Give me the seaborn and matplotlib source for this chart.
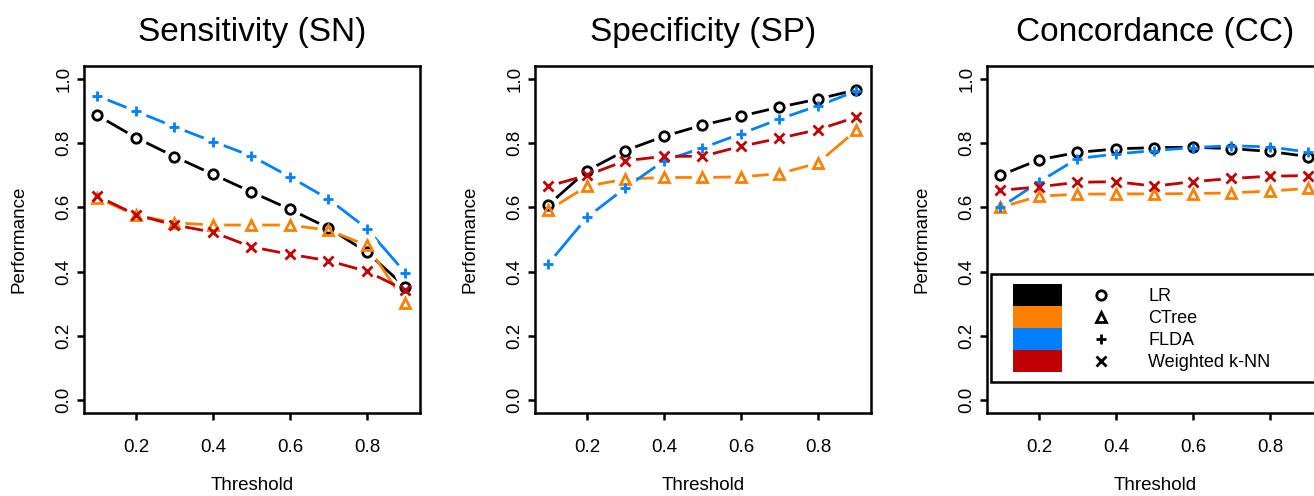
import numpy as np
import pandas as pd
import matplotlib
matplotlib.use("Agg")
import matplotlib.pyplot as plt
import seaborn as sns
from matplotlib.legend_handler import HandlerBase
from matplotlib.lines import Line2D
from matplotlib.patches import Rectangle

# ---------------- data ----------------
thresholds = [0.1, 0.2, 0.3, 0.4, 0.5, 0.6, 0.7, 0.8, 0.9]
methods = ["LR", "CTree", "FLDA", "Weighted k-NN"]
colors = ["#000000", "#FF8000", "#0080FF", "#C00000"]
marker_styles = ["o", "^", "+", "x"]
panel_titles = ["Sensitivity (SN)", "Specificity (SP)", "Concordance (CC)"]
x_ticks = [0.2, 0.4, 0.6, 0.8]
x_tick_labels = ["0.2", "0.4", "0.6", "0.8"]
y_ticks = [0.0, 0.2, 0.4, 0.6, 0.8, 1.0]
y_tick_labels = ["0.0", "0.2", "0.4", "0.6", "0.8", "1.0"]

sn_lr = [0.886, 0.817, 0.758, 0.703, 0.648, 0.594, 0.536, 0.461, 0.352]
sn_ctree = [0.629, 0.576, 0.552, 0.545, 0.545, 0.545, 0.529, 0.482, 0.303]
sn_flda = [0.947, 0.899, 0.851, 0.805, 0.760, 0.695, 0.626, 0.534, 0.396]
sn_knn = [0.635, 0.577, 0.545, 0.523, 0.477, 0.454, 0.434, 0.401, 0.342]

sp_lr = [0.608, 0.714, 0.777, 0.821, 0.856, 0.884, 0.912, 0.937, 0.966]
sp_ctree = [0.591, 0.666, 0.688, 0.693, 0.693, 0.695, 0.705, 0.738, 0.840]
sp_flda = [0.425, 0.569, 0.661, 0.745, 0.785, 0.829, 0.875, 0.916, 0.962]
sp_knn = [0.666, 0.700, 0.745, 0.759, 0.759, 0.790, 0.815, 0.842, 0.881]

cc_lr = [0.700, 0.748, 0.771, 0.782, 0.786, 0.787, 0.783, 0.774, 0.758]
cc_ctree = [0.600, 0.635, 0.641, 0.642, 0.642, 0.643, 0.645, 0.651, 0.659]
cc_flda = [0.600, 0.679, 0.752, 0.766, 0.777, 0.786, 0.792, 0.788, 0.772]
cc_knn = [0.653, 0.664, 0.678, 0.680, 0.666, 0.680, 0.690, 0.697, 0.699]

panels = [
    [sn_lr, sn_ctree, sn_flda, sn_knn],
    [sp_lr, sp_ctree, sp_flda, sp_knn],
    [cc_lr, cc_ctree, cc_flda, cc_knn],
]

# ---------------- style ----------------
sns.set_theme(style="white")
plt.rcParams["font.family"] = ["Liberation Sans", "DejaVu Sans"]
plt.rcParams["text.color"] = "black"
plt.rcParams["axes.labelcolor"] = "black"
plt.rcParams["xtick.color"] = "black"
plt.rcParams["ytick.color"] = "black"

DPI = 100
fig = plt.figure(figsize=(13.14, 4.96), dpi=DPI)
fig.patch.set_facecolor("white")

W, H = 1314.0, 496.0
ax_w, ax_h = 336 / W, 347 / H
ax_bottom = 83 / H
lefts = [84 / W, 535 / W, 987 / W]
axes = [fig.add_axes([l, ax_bottom, ax_w, ax_h]) for l in lefts]

palette = dict(zip(methods, colors))
LW = 2.0      # data line width
MEW = 2.0     # marker stroke width
BOX_LW = 1.8  # frame / ticks


def marker_size(mk):
    return 6.8 if mk in ("o", "^") else 7.0


for ax, title, vals in zip(axes, panel_titles, panels):
    rows = []
    for m, v in zip(methods, vals):
        for t, y in zip(thresholds, v):
            rows.append({"Threshold": t, "Performance": y, "Method": m})
    df = pd.DataFrame(rows)

    # lines
    sns.lineplot(data=df, x="Threshold", y="Performance", hue="Method",
                 hue_order=methods, palette=palette, linewidth=LW,
                 legend=False, ax=ax, zorder=2, sort=False, estimator=None)
    # white gaps around points (R type="b" look)
    sns.scatterplot(data=df, x="Threshold", y="Performance", color="white",
                    s=240, linewidth=0, legend=False, ax=ax, zorder=3)
    # open markers
    for m, c, mk in zip(methods, colors, marker_styles):
        sub = df[df["Method"] == m]
        ax.plot(sub["Threshold"], sub["Performance"], linestyle="none",
                marker=mk, ms=marker_size(mk), mfc="none", mec=c, mew=MEW,
                zorder=4)

    ax.set_xlim(0.065, 0.938)
    ax.set_ylim(-0.04, 1.04)
    ax.set_xticks(x_ticks)
    ax.set_xticklabels(x_tick_labels)
    ax.set_yticks(y_ticks)
    ax.set_yticklabels(y_tick_labels, rotation=90, va="center")
    ax.tick_params(axis="both", direction="out", length=5, width=BOX_LW,
                   labelsize=13.5, colors="black", bottom=True, left=True)
    ax.tick_params(axis="x", pad=14)
    ax.tick_params(axis="y", pad=3.5)
    for s in ax.spines.values():
        s.set_visible(True)
        s.set_linewidth(BOX_LW)
        s.set_color("black")
    ax.set_title(title, fontsize=24, pad=18, color="black")
    ax.set_xlabel("Threshold", fontsize=13.5)
    ax.xaxis.set_label_coords(0.5, -0.21)
    ax.xaxis.label.set_va("center")
    ax.set_ylabel("Performance", fontsize=13.5)
    ax.yaxis.set_label_coords(-0.193, 0.5)
    ax.yaxis.label.set_va("center")
    ax.yaxis.label.set_ha("center")
    ax.grid(False)


# ---------------- legend ----------------
px = 72.0 / DPI  # pixels -> points


class SwatchMarkerHandler(HandlerBase):
    def create_artists(self, legend, orig_handle, xdescent, ydescent,
                       width, height, fontsize, trans):
        row_h = height + 0.6
        cy = -ydescent + height / 2
        x0 = -xdescent + 12 * px
        rect = Rectangle((x0, cy - row_h / 2), 49 * px, row_h,
                         facecolor=orig_handle.get_color(), edgecolor="none",
                         transform=trans)
        mk = orig_handle.get_marker()
        mark = Line2D([x0 + 88 * px], [cy], linestyle="none", marker=mk,
                      ms=marker_size(mk), mfc="none", mec="black", mew=MEW,
                      transform=trans)
        return [rect, mark]


handles = [Line2D([], [], color=c, marker=mk) for c, mk in zip(colors, marker_styles)]
ax3 = axes[2]
x0 = (991 - 987) / 336
y0 = (413 - 382) / 347
leg = ax3.legend(handles, methods, handler_map={Line2D: SwatchMarkerHandler()},
                 loc="lower left", bbox_to_anchor=(x0, y0, 1.0 - x0, 0.3),
                 mode="expand", borderaxespad=0, fontsize=13,
                 handlelength=7.35, handleheight=1.5, labelspacing=0,
                 borderpad=0.55, handletextpad=0.8, frameon=True,
                 fancybox=False, framealpha=1, edgecolor="black")
leg.get_frame().set_linewidth(BOX_LW)
leg.get_frame().set_facecolor("white")

fig.savefig("out.png", dpi=DPI, facecolor="white")
